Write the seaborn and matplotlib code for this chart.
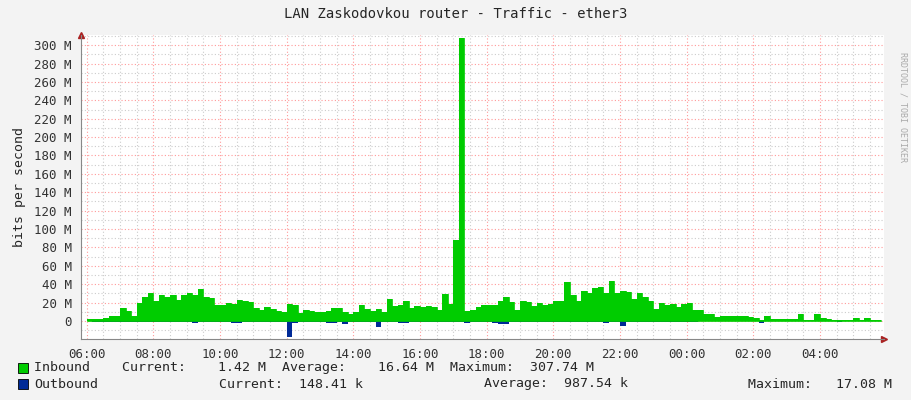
import numpy as np
import pandas as pd
import matplotlib
matplotlib.use("Agg")
import matplotlib.pyplot as plt
import seaborn as sns

# 10-minute samples starting 06:00 (values in Mbit/s)
inbound = [2,2.5,2.5,3,5.5,5,
           14,11,6,20,26,30,
           22,28,26,28,23,28,
           30,28,35,26,25,17,
           17,20,19,23,22,21,
           14,12,15,13,11,10,
           19,18,9,12,11,10,
           10,11,14,14,10,8,
           10,17,13,11,13,10,
           24,16,17,22,14,16,
           15,16,15,12,29,19,
           88,308,11,12,15,17,
           18,17,22,26,21,12,
           22,21,16,20,18,19,
           22,22,42,28,22,33,
           31,36,37,31,44,31,
           33,32,24,30,26,22,
           13,20,18,19,15,19,
           20,12,12,8,8,4,
           6,6,6,6,5,4,
           3,1.5,6,2.5,2,2,
           2,2,8,1.5,1.5,8,
           3,2.5,1.5,1,1,1,
           3,1,3.5,1.5,1.42]
outbound = [0.3,1.5,0.5,0.5,1,1.5,
            1.5,0.5,0.5,1,1,1,
            1,1,1,1,1,1,
            1,2,1,1,1,1,
            1,1,2,2,1,1,
            1,1,1,1.5,1.5,1.5,
            17,2,1,1,1,1,
            1,2,2,1,3,1,
            1,1,1,1,6.5,1,
            1,1,2,2,1,1,
            1,1,1,1,1,1,
            1,1,2,1,1,1,
            1,2,3,3,1,1,
            1,1,1,1,1,1,
            1,1,1,1,1,1,
            1,1,1,2,1,1,
            5.5,1,1,1,1,1,
            1,1,1,1,1,1,
            1,0.5,0.2,0.2,0.2,0.2,
            0.2,0.2,0.2,0.2,0.2,0.2,
            0.2,2,0.2,0.2,0.2,0.2,
            0.2,0.2,0.2,0.2,0.2,0.2,
            0.2,0.2,0.2,1,0.2,0.2,
            0.2,0.2,0.2,0.2,0.15]
hours = [6 + i/6 for i in range(len(inbound))]
tick_hours = [6, 8, 10, 12, 14, 16, 18, 20, 22, 24, 26, 28]
tick_labels = ["06:00","08:00","10:00","12:00","14:00","16:00","18:00",
               "20:00","22:00","00:00","02:00","04:00"]
ytick_vals = list(range(0, 301, 20))
ytick_labels = ["0"] + [f"{v} M" for v in ytick_vals[1:]]

df = pd.DataFrame({"h": hours, "in": inbound, "out": [-v for v in outbound]})
last = df.iloc[[-1]].copy()
last["h"] = last["h"] + 1/6
dfp = pd.concat([df, last], ignore_index=True)

sns.set_style("white")
plt.rcParams["font.family"] = ["DejaVu Sans Mono"]
fig = plt.figure(figsize=(9.11, 4.0), dpi=100, facecolor="#F3F3F3")
ax = fig.add_axes([81/911, 61/400, (884-81)/911, (365-61)/400])
ax.set_facecolor("white")

x0, x1 = 5.83, 29.92
ax.fill_between(dfp["h"], 0, dfp["in"], step="post", color="#00CC00", lw=0)
ax.fill_between(dfp["h"], 0, dfp["out"], step="post", color="#002A97", lw=0)
sns.lineplot(x="h", y="in", data=dfp, drawstyle="steps-post", color="#00CC00", lw=0.6, ax=ax)

ax.set_xlim(x0, x1)
ax.set_ylim(-19.5, 311)
ax.set_xticks(tick_hours)
ax.set_xticklabels(tick_labels)
ax.set_xticks(np.arange(6, 30, 0.5), minor=True)
ax.set_yticks(ytick_vals)
ax.set_yticklabels(ytick_labels)
ax.set_yticks(np.arange(-10, 311, 10), minor=True)
ax.grid(which="minor", color="#CCCCCC", ls=(0, (1, 2)), lw=0.8)
ax.grid(which="major", color="#FF9999", ls=(0, (1, 2)), lw=0.8)
ax.set_axisbelow(True)
ax.tick_params(which="both", length=3, labelsize=9, color="#999999", colors="#333333")
ax.tick_params(which="minor", length=0)
ax.axhline(0, color="#00CC00", lw=0.6, xmin=(6-x0)/(x1-x0), xmax=(29.83-x0)/(x1-x0))
for s in ["top", "right"]:
    ax.spines[s].set_visible(False)
for s in ["left", "bottom"]:
    ax.spines[s].set_color("#888888")
ax.plot(1, 0, ">", color="#AA2222", ms=4, transform=ax.transAxes, clip_on=False)
ax.plot(0, 1, "^", color="#AA2222", ms=4, transform=ax.transAxes, clip_on=False)
ax.set_xlabel("")
ax.set_ylabel("bits per second", fontsize=9.5, labelpad=6)

fig.text(0.5, 1 - 14/400, "LAN Zaskodovkou router - Traffic - ether3",
         ha="center", va="center", fontsize=10)
fig.text(903/911, 0.87, "RRDTOOL / TOBI OETIKER", rotation=270, ha="center",
         va="top", fontsize=6, color="#AAAAAA")

def sw(x, y, c):
    fig.patches.append(plt.Rectangle((x/911, 1-(y+5)/400), 10/911, 10/400,
                       transform=fig.transFigure, fc=c, ec="black", lw=0.6))
sw(18, 368, "#00CC00")
sw(18, 384, "#002A97")
fs = 9.5
fig.text(34/911, 1-368/400, "Inbound    Current:    1.42 M  Average:    16.64 M  Maximum:  307.74 M",
         va="center", fontsize=fs)
fig.text(34/911, 1-384/400, "Outbound", va="center", fontsize=fs)
fig.text(219/911, 1-384/400, "Current:  148.41 k", va="center", fontsize=fs)
fig.text(484/911, 1-384/400, "Average:  987.54 k", va="center", fontsize=fs)
fig.text(748/911, 1-384/400, "Maximum:   17.08 M", va="center", fontsize=fs)

fig.savefig("out.png", dpi=100, facecolor=fig.get_facecolor())
